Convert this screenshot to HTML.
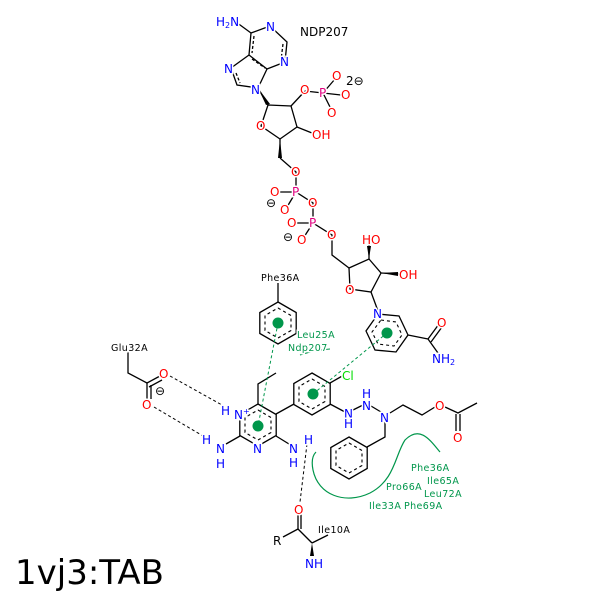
<!DOCTYPE html>
<html><head><meta charset="utf-8"><style>
html,body{margin:0;padding:0;background:#fff;}
svg{display:block;}
text{font-family:"DejaVu Sans","Liberation Sans",sans-serif;font-size:12px;paint-order:stroke;stroke:#fff;stroke-width:3px;}
.s{font-size:9.5px;letter-spacing:0.4px;}
.b{stroke:#000;stroke-width:1.3;fill:none;}
.d{stroke:#000;stroke-width:1.1;fill:none;stroke-dasharray:3,3;}
.N{fill:#0000ff}.O{fill:#ff0000}.P{fill:#e0007f}.K{fill:#000}.G{fill:#00964b}
</style></head><body>
<svg width="600" height="600" viewBox="0 0 600 600" xmlns="http://www.w3.org/2000/svg">
<defs>
<g id="hex"><polygon points="0,-21 18.2,-10.5 18.2,10.5 0,21 -18.2,10.5 -18.2,-10.5" class="b"/>
<polygon points="0,-15 13,-7.5 13,7.5 0,15 -13,7.5 -13,-7.5" class="d"/></g>
</defs>
<rect width="600" height="600" fill="#fff"/>
<g class="b">
<polyline points="251,33 270,26 287,42 285,62 267,69 249,55 251,33"/>
<polyline points="249,55 231,68 237,85 258,88 267,69"/>
<line x1="254" y1="36" x2="252" y2="53" stroke-dasharray="3,2"/>
<line x1="283" y1="44" x2="281" y2="60" stroke-dasharray="3,2"/>
<line x1="252" y1="59" x2="265" y2="68" stroke-dasharray="3,2"/>
<line x1="236" y1="73" x2="240" y2="83" stroke-dasharray="3,2"/>
<line x1="251" y1="33" x2="236" y2="22"/>
<line x1="258" y1="88" x2="268" y2="105"/>
<polyline points="268,105 291,106 297,127 280,139 261,126 268,105"/>
<line x1="291" y1="106" x2="305" y2="91"/>
<line x1="305" y1="91" x2="323" y2="93"/>
<line x1="297" y1="127" x2="312" y2="133"/>
<line x1="280" y1="139" x2="280" y2="158"/>
<polyline points="280,158 296,172 296,192 313,203 313,223 332,235 332,255 349,268"/>
<polyline points="349,268 369,259 381,273 371,292 350,289 349,268"/>
<line x1="369" y1="259" x2="369" y2="244"/>
<line x1="381" y1="273" x2="400" y2="274"/>
<line x1="371" y1="292" x2="378" y2="311"/>
<line x1="323" y1="93" x2="335" y2="79"/><line x1="323" y1="93" x2="341" y2="95"/><line x1="323" y1="93" x2="331" y2="109"/>
<line x1="296" y1="192" x2="278" y2="192"/><line x1="296" y1="192" x2="287" y2="207"/>
<line x1="313" y1="223" x2="295" y2="223"/><line x1="313" y1="223" x2="304" y2="237"/>
<polygon points="378,314 399,316 408,335 396,352 375,350 366,331"/>
<polygon points="381,320 396,322 402,335 394,346 378,344 372,332" class="d"/>
<line x1="408" y1="335" x2="428" y2="339"/>
<line x1="428" y1="339" x2="439" y2="324"/><line x1="431" y1="342" x2="442" y2="327"/>
<line x1="428" y1="339" x2="438" y2="353"/>
</g>
<use href="#hex" x="278" y="323"/>
<use href="#hex" x="312" y="394"/>
<use href="#hex" x="258" y="425"/>
<use href="#hex" x="349" y="458"/>
<g class="b">
<line x1="278" y1="302" x2="278" y2="283"/>
<polyline points="258,404 258,384 276,373"/>
<line x1="276" y1="414" x2="294" y2="404"/>
<line x1="330" y1="383" x2="344" y2="375"/>
<line x1="330" y1="404" x2="345" y2="412"/>
<line x1="353" y1="410" x2="363" y2="405"/>
<line x1="371" y1="406" x2="381" y2="412"/>
<polyline points="390,413 403,405 422,415 435,407"/>
<polyline points="445,407 458,413 477,403"/>
<line x1="456" y1="414" x2="456" y2="431"/><line x1="460" y1="414" x2="460" y2="431"/>
<polyline points="385,422 385,437 367,447"/>
<line x1="240" y1="436" x2="226" y2="444"/>
<line x1="276" y1="436" x2="289" y2="444"/>
<polyline points="128,352 128,373 147,383"/>
<line x1="147" y1="383" x2="160" y2="376"/><line x1="149" y1="387" x2="162" y2="380"/>
<line x1="147" y1="383" x2="147" y2="399"/><line x1="151" y1="385" x2="151" y2="399"/>
<line x1="298" y1="514" x2="298" y2="529"/><line x1="301" y1="514" x2="301" y2="529"/>
<line x1="283" y1="537" x2="298" y2="529"/>
<line x1="298" y1="529" x2="312" y2="543"/>
<line x1="312" y1="543" x2="328" y2="535"/>
</g>
<path d="M312,543 L310,556 L314,556 Z" fill="#000"/>
<path d="M258,88 L266,105 L270,104 Z" fill="#000"/>
<path d="M280,139 L278,158 L282,158 Z" fill="#000"/>
<path d="M369,259 L367,246 L371,246 Z" fill="#000"/>
<path d="M381,273 L398,272 L398,276 Z" fill="#000"/>
<g stroke="#000" stroke-width="1" stroke-dasharray="3,2.5" fill="none">
<line x1="170" y1="376" x2="222" y2="405"/>
<line x1="154" y1="407" x2="203" y2="436"/>
<line x1="307" y1="444" x2="300" y2="502"/>
</g>
<g stroke="#00964b" stroke-width="1" stroke-dasharray="3,2.5" fill="none">
<line x1="278" y1="323" x2="258" y2="426"/>
<line x1="313" y1="394" x2="387" y2="333"/>
</g>
<g fill="#00964b"><circle cx="278" cy="323" r="5.5"/><circle cx="258" cy="426" r="5.5"/><circle cx="313" cy="394" r="5.5"/><circle cx="387" cy="333" r="5.5"/></g>
<path d="M300,355 Q315,350 330,349" stroke="#00964b" stroke-width="1" fill="none"/>
<path d="M440,452 C430,440 420,425 405,440 C395,455 395,480 370,493 C345,505 318,495 313,470 C311,460 313,455 316,452" stroke="#00964b" stroke-width="1.2" fill="none"/>
<text x="216" y="26" class="N">H<tspan font-size="8" dy="2">2</tspan><tspan dy="-2">N</tspan></text>
<text x="266" y="31" class="N">N</text>
<text x="280" y="66" class="N">N</text>
<text x="224" y="73" class="N">N</text>
<text x="251" y="94" class="N">N</text>
<text x="300" y="36" class="K" font-size="10">NDP207</text>
<text x="300" y="94" class="O">O</text>
<text x="256" y="130" class="O">O</text>
<text x="312" y="139" class="O">OH</text>
<text x="319" y="97" class="P">P</text>
<text x="332" y="80" class="O">O</text><text x="341" y="99" class="O">O</text><text x="327" y="117" class="O">O</text>
<text x="346" y="85" class="K" font-size="10">2⊖</text>
<text x="291" y="176" class="O">O</text>
<text x="292" y="196" class="P">P</text>
<text x="270" y="196" class="O">O</text><text x="280" y="214" class="O">O</text>
<text x="266" y="207" class="K">⊖</text>
<text x="308" y="207" class="O">O</text>
<text x="309" y="227" class="P">P</text>
<text x="287" y="227" class="O">O</text><text x="297" y="244" class="O">O</text>
<text x="283" y="241" class="K">⊖</text>
<text x="327" y="239" class="O">O</text>
<text x="362" y="244" class="O">HO</text>
<text x="399" y="279" class="O">OH</text>
<text x="345" y="294" class="O">O</text>
<text x="373" y="318" class="N">N</text>
<text x="437" y="327" class="O">O</text>
<text x="432" y="363" class="N">NH<tspan font-size="8" dy="2">2</tspan></text>
<text x="261" y="281" class="K s">Phe36A</text>
<text x="297" y="338" class="G s">Leu25A</text>
<text x="288" y="351" class="G s">Ndp207</text>
<text x="342" y="380" fill="#00dd00">Cl</text>
<text x="362" y="398" class="N">H</text><text x="362" y="410" class="N">N</text>
<text x="344" y="418" class="N">N</text><text x="344" y="428" class="N">H</text>
<text x="380" y="422" class="N">N</text>
<text x="435" y="410" class="O">O</text>
<text x="453" y="442" class="O">O</text>
<text x="111" y="351" class="K s">Glu32A</text>
<text x="159" y="378" class="O">O</text>
<text x="142" y="409" class="O">O</text>
<text x="155" y="395" class="K">⊖</text>
<text x="221" y="415" class="N">H</text>
<text x="234" y="419" class="N">N<tspan font-size="8" dy="-5">+</tspan></text>
<text x="202" y="444" class="N">H</text><text x="216" y="453" class="N">N</text><text x="216" y="468" class="N">H</text>
<text x="253" y="453" class="N">N</text>
<text x="289" y="453" class="N">N</text><text x="304" y="444" class="N">H</text><text x="289" y="467" class="N">H</text>
<text x="411" y="471" class="G s">Phe36A</text>
<text x="427" y="484" class="G s">Ile65A</text>
<text x="386" y="490" class="G s">Pro66A</text>
<text x="424" y="497" class="G s">Leu72A</text>
<text x="369" y="509" class="G s">Ile33A</text>
<text x="404" y="509" class="G s">Phe69A</text>
<text x="294" y="514" class="O">O</text>
<text x="273" y="545" class="K">R</text>
<text x="318" y="533" class="K s">Ile10A</text>
<text x="305" y="568" class="N">NH</text>
<text x="15" y="584" class="K" style="font-size:34px;stroke-width:0">1vj3:TAB</text>
</svg>
</body></html>
